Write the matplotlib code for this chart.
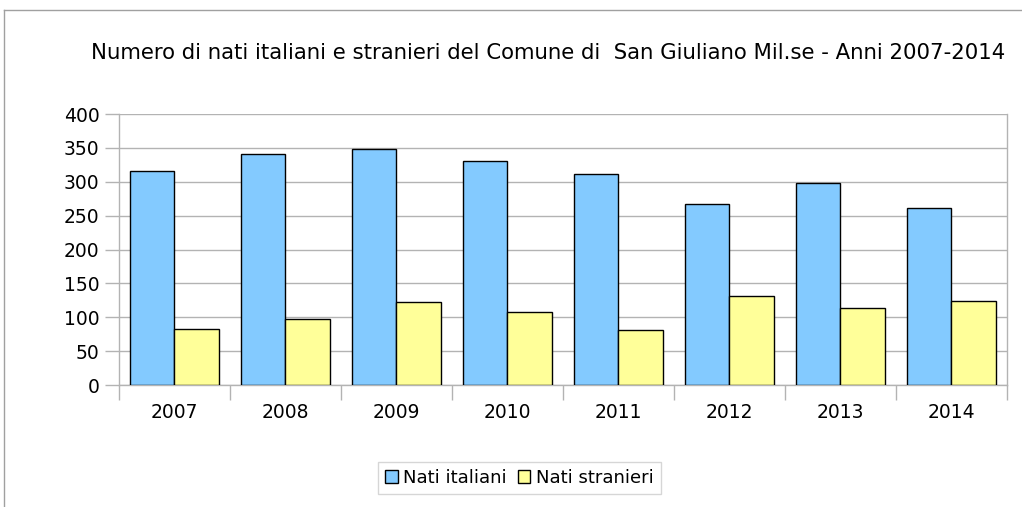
import numpy as np
import matplotlib
matplotlib.use("Agg")
import matplotlib.pyplot as plt
from matplotlib.lines import Line2D

# Data
anni = ["2007", "2008", "2009", "2010", "2011", "2012", "2013", "2014"]
nati_italiani = [316, 341, 348, 330, 311, 267, 298, 262]
nati_stranieri = [82, 97, 122, 108, 81, 131, 113, 124]

titolo = "Numero di nati italiani e stranieri del Comune di  San Giuliano Mil.se - Anni 2007-2014"

BLUE = "#83caff"
YELLOW = "#ffff99"
GRID = "#b3b3b3"

plt.rcParams["font.family"] = "DejaVu Sans"

fig = plt.figure(figsize=(10.22, 5.07), dpi=100)
ax = fig.add_axes([0.1164, 0.2406, 0.8689, 0.5345])

x = np.arange(len(anni))
w = 0.4
ax.bar(x - w / 2, nati_italiani, w, color=BLUE, edgecolor="black", linewidth=1,
       label="Nati italiani", zorder=3)
ax.bar(x + w / 2, nati_stranieri, w, color=YELLOW, edgecolor="black", linewidth=1,
       label="Nati stranieri", zorder=3)

ax.set_xlim(-0.5, len(anni) - 0.5)
ax.set_ylim(0, 400)
ax.set_yticks(range(0, 401, 50))
ax.yaxis.grid(True, color=GRID, linewidth=1, zorder=0)

# category labels centred, ticks at category boundaries
ax.set_xticks(x)
ax.set_xticklabels(anni, fontsize=13.5)
ax.set_xticks(np.arange(-0.5, len(anni), 1.0), minor=True)
ax.tick_params(axis="x", which="major", length=0, pad=13)
ax.tick_params(axis="x", which="minor", length=11, color=GRID, width=1)
ax.tick_params(axis="y", length=10, color=GRID, width=1, labelsize=13.5, pad=4)

for side in ["left", "right", "bottom", "top"]:
    ax.spines[side].set_color(GRID)
    ax.spines[side].set_linewidth(1)
ax.spines["top"].set_visible(False)

fig.text(0.536, 0.895, titolo, ha="center", va="center", fontsize=15.3)

fig.legend(loc="center", bbox_to_anchor=(0.508, 0.057), ncol=2, fontsize=13,
           frameon=True, fancybox=False, edgecolor="#cccccc", handlelength=0.7,
           handleheight=0.7, handletextpad=0.3, columnspacing=0.6,
           borderpad=0.4)

# outer frame lines (top and left)
fig.add_artist(Line2D([4 / 1022, 1], [1 - 10 / 507, 1 - 10 / 507], color="#a0a0a0", lw=1))
fig.add_artist(Line2D([4 / 1022, 4 / 1022], [0, 1 - 10 / 507], color="#a0a0a0", lw=1))

fig.savefig("out.png", dpi=100)
